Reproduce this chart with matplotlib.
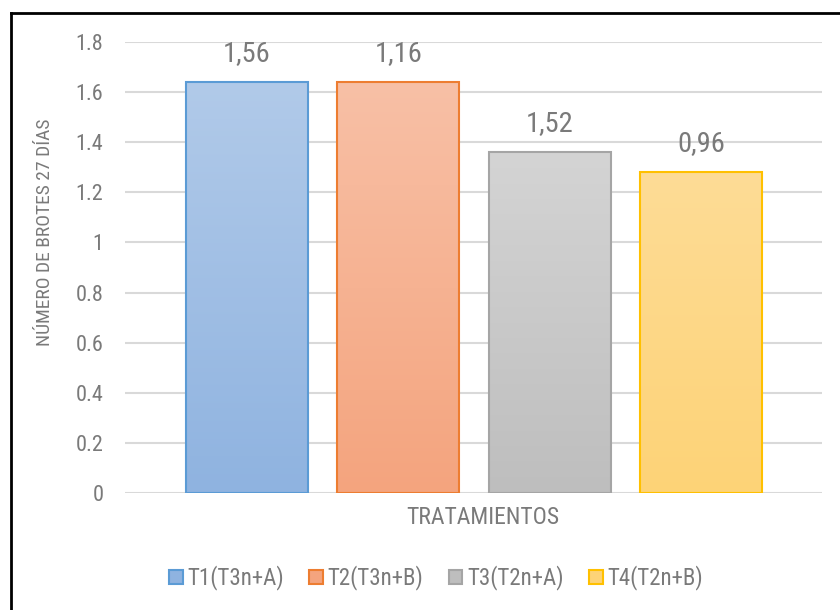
import numpy as np
import matplotlib.pyplot as plt
from matplotlib import font_manager
from matplotlib.colors import LinearSegmentedColormap
from matplotlib.patches import Patch
from matplotlib.lines import Line2D

# pick a narrow sans face if one is installed
names = {f.name for f in font_manager.fontManager.ttflist}
stretched = {(f.name, f.stretch) for f in font_manager.fontManager.ttflist}
family, stretch = "Liberation Sans", "normal"
for cand in ["Liberation Sans Narrow", "Arial Narrow", "Roboto Condensed",
             "Open Sans Condensed", "Open Sans SemiCondensed", "Noto Sans Condensed"]:
    if cand in names:
        family = cand
        break
else:
    for fam in ["Roboto", "Noto Sans", "Open Sans", "DejaVu Sans"]:
        hits = [s for n, s in stretched if n == fam and s not in ("normal", 500)]
        if hits:
            family, stretch = fam, "condensed"
            break
plt.rcParams['font.family'] = [family, 'DejaVu Sans']
plt.rcParams['font.stretch'] = stretch

# treatments (one category, four series) and the bar heights
series = ["T1(T3n+A)", "T2(T3n+B)", "T3(T2n+A)", "T4(T2n+B)"]
heights = [1.64, 1.64, 1.36, 1.28]
point_labels = ["1,56", "1,16", "1,52", "0,96"]

edge_colors = ["#5b9bd5", "#ed7d31", "#a5a5a5", "#ffc000"]
top_colors = ["#b1cae9", "#f8c0a6", "#d4d4d4", "#fedc96"]
bottom_colors = ["#8fb3e0", "#f4a47e", "#bebebe", "#fdd377"]

txt = "#7a7a7a"

fig = plt.figure(figsize=(8.4, 6.1), dpi=100)
ax = fig.add_axes([0.1488, 0.1918, 0.8298, 0.7393])

x = np.arange(len(series))
width = 0.806
bars = ax.bar(x, heights, width=width, facecolor="none",
              edgecolor=edge_colors, linewidth=1.5, zorder=3)

# vertical gradient inside each bar
grad = np.linspace(0, 1, 256).reshape(-1, 1)
for bar, top, bottom in zip(bars, top_colors, bottom_colors):
    cmap = LinearSegmentedColormap.from_list("g", [bottom, top])
    x0, y0 = bar.get_x(), bar.get_y()
    w, h = bar.get_width(), bar.get_height()
    im = ax.imshow(grad, cmap=cmap, aspect="auto", origin="lower",
                   extent=[x0, x0 + w, y0, y0 + h], zorder=2)
    im.set_clip_path(bar)

for xi, h, lab in zip(x, heights, point_labels):
    ax.annotate(lab, (xi, h), xytext=(0, 11), textcoords="offset points",
                ha="center", va="bottom", fontsize=20.5, color=txt)

ax.set_xlim(-0.806, 3.80)
ax.set_ylim(0, 1.8)
ax.set_yticks(np.arange(0, 1.81, 0.2))
ax.set_yticklabels(["0", "0.2", "0.4", "0.6", "0.8", "1", "1.2", "1.4", "1.6", "1.8"])
ax.set_xticks([])
ax.tick_params(axis="y", length=0, pad=15.5, labelsize=16, labelcolor=txt)
ax.grid(axis="y", color="#d9d9d9", linewidth=1.5, zorder=0)
ax.set_axisbelow(True)
for s in ax.spines.values():
    s.set_visible(False)

fig.text(483 / 840, 1 - 518 / 610, "TRATAMIENTOS", ha="center", va="center",
         fontsize=17, color=txt)
fig.text(45 / 840, 1 - 232 / 610, "NÚMERO DE BROTES 27 DÍAS", rotation=90,
         ha="center", va="center", fontsize=14, color=txt)

handles = [Patch(facecolor=c, edgecolor=e, linewidth=1.5)
           for c, e in zip(bottom_colors, edge_colors)]
fig.legend(handles, series, loc="center", bbox_to_anchor=(436 / 840, 1 - 578 / 610),
           ncol=4, frameon=False, fontsize=16.5, labelcolor=txt,
           handlelength=0.6, handleheight=0.6, handletextpad=0.2,
           columnspacing=1.1)

# chart frame (left and top edges)
fig.add_artist(Line2D([11 / 840, 11 / 840], [0, 1 - 13 / 610], color="black",
                      linewidth=2, transform=fig.transFigure))
fig.add_artist(Line2D([11 / 840, 1], [1 - 13 / 610, 1 - 13 / 610], color="black",
                      linewidth=2, transform=fig.transFigure))

fig.savefig("out.png", dpi=100)
